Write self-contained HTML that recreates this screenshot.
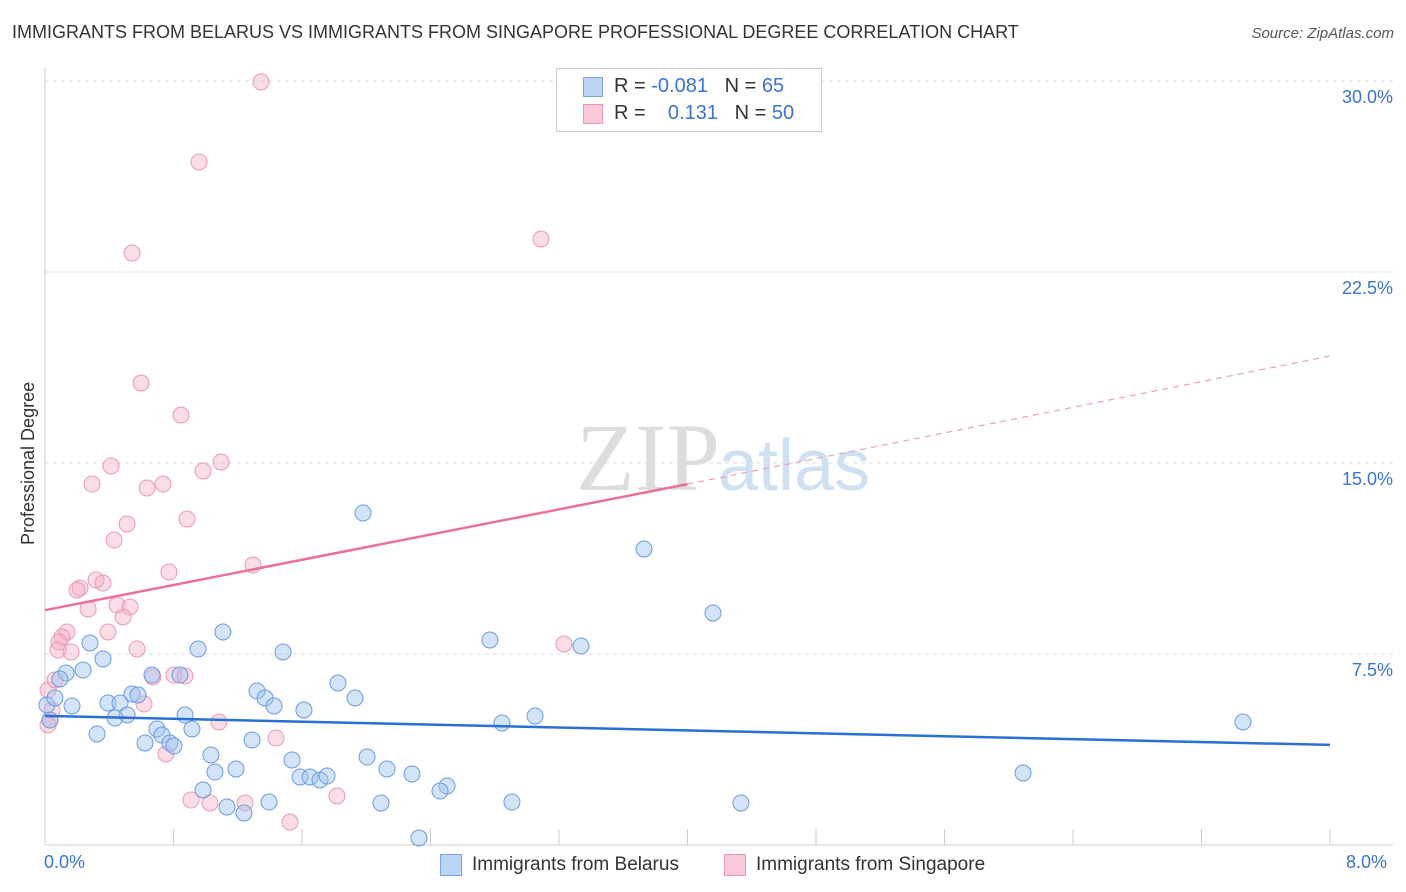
<!DOCTYPE html>
<html><head><meta charset="utf-8">
<style>
body{margin:0;background:#fff;font-family:"Liberation Sans",sans-serif;}
#wrap{position:relative;width:1406px;height:892px;overflow:hidden;}
.t{position:absolute;white-space:nowrap;}
</style></head>
<body>
<div id="wrap">
<div class="t" style="left:12px;top:22px;font-size:18px;color:#333;">IMMIGRANTS FROM BELARUS VS IMMIGRANTS FROM SINGAPORE PROFESSIONAL DEGREE CORRELATION CHART</div>
<div class="t" style="right:12px;top:25px;font-size:15px;color:#555;font-style:italic;">Source: ZipAtlas.com</div>
<svg id="svg" width="1406" height="892" style="position:absolute;left:0;top:0">
<text x="720" y="490" font-size="96" font-family="Liberation Serif" fill="#ddd" text-anchor="end">ZIP</text>
<text x="718" y="490" font-size="72" font-family="Liberation Sans" fill="#cfe0f3">atlas</text>
</svg>
<div class="t" style="left:18px;top:545px;font-size:18px;color:#333;transform:rotate(-90deg);transform-origin:0 0;">Professional Degree</div>
<div class="t" style="left:44px;top:852px;font-size:18px;color:#3b73d1;">0.0%</div>
<div class="t" style="left:1346px;top:852px;font-size:18px;color:#3b73d1;">8.0%</div>
<div style="position:absolute;left:556px;top:68px;width:264px;height:62px;border:1px solid #ccc;background:#fff;">
 <div style="position:absolute;left:26px;top:8px;width:18px;height:18px;background:#bcd4f5;border:1px solid #7aa3e0;"></div>
 <div class="t" style="left:57px;top:6px;font-size:20px;color:#333;">R = <span style="color:#3b73d1">-0.081</span>&nbsp;&nbsp;&nbsp;N = <span style="color:#3b73d1">65</span></div>
 <div style="position:absolute;left:26px;top:35px;width:18px;height:18px;background:#f9c9d8;border:1px solid #eb9ab3;"></div>
 <div class="t" style="left:57px;top:33px;font-size:20px;color:#333;">R = &nbsp;&nbsp;&nbsp;<span style="color:#3b73d1">0.131</span>&nbsp;&nbsp;&nbsp;N = <span style="color:#3b73d1">50</span></div>
</div>
<div style="position:absolute;left:440px;top:854px;width:20px;height:20px;background:#bcd4f5;border:1px solid #7aa3e0;"></div>
<div class="t" style="left:472px;top:854px;font-size:19px;color:#333;">Immigrants from Belarus</div>
<div style="position:absolute;left:724px;top:854px;width:20px;height:20px;background:#f9c9d8;border:1px solid #eb9ab3;"></div>
<div class="t" style="left:756px;top:854px;font-size:19px;color:#333;">Immigrants from Singapore</div>
</div>
<script>
const yTickValues=[7.5,15,22.5,30];
const yTickLabels=["7.5%","15.0%","22.5%","30.0%"];
const xTickValues=[0,0.8,1.6,2.4,3.2,4,4.8,5.6,6.4,7.2,8];
const bluePx=[[363,513],[644,549],[713,613],[490,640],[581,646],[223,632],[198,649],[283,652],[90,643],[103,659],[66,673],[83,670],[60,679],[152,675],[180,675],[338,683],[257,691],[265,698],[355,698],[132,694],[138,695],[108,703],[120,703],[72,706],[274,706],[304,710],[185,715],[127,715],[115,718],[502,723],[535,716],[1243,722],[192,729],[157,729],[162,735],[97,734],[145,743],[170,743],[174,746],[252,740],[211,755],[292,760],[367,757],[236,769],[215,772],[387,769],[412,774],[1023,773],[300,777],[310,777],[320,780],[327,776],[447,786],[440,791],[203,790],[269,802],[381,803],[512,802],[741,803],[227,807],[244,813],[419,838],[50,720],[47,705],[55,698]];
const pinkPx=[[261,82],[199,162],[541,239],[132,253],[141,383],[181,415],[111,466],[221,462],[203,471],[92,484],[147,488],[163,484],[187,519],[127,524],[114,540],[253,565],[169,572],[96,580],[103,583],[80,588],[77,590],[117,605],[130,607],[88,609],[123,617],[67,632],[62,637],[108,632],[59,642],[137,649],[71,652],[564,644],[153,677],[174,675],[185,676],[144,704],[219,722],[276,738],[166,754],[50,720],[52,710],[48,690],[55,680],[191,800],[210,803],[245,803],[337,796],[290,822],[58,650],[48,725]];
// convert estimated readings to data values (x %, y %)
const blueX=bluePx.map(p=>+((p[0]-45)/1285*8).toFixed(3));
const blueY=bluePx.map(p=>+((845-p[1])/191*7.5).toFixed(3));
const pinkX=pinkPx.map(p=>+((p[0]-45)/1285*8).toFixed(3));
const pinkY=pinkPx.map(p=>+((845-p[1])/191*7.5).toFixed(3));
const blueTrend=[[0,5.07],[8,3.93]];
const pinkTrend=[[0,9.22],[4,14.17],[8,19.2]];

const X=v=>45+v/8*1285, Y=v=>845-v/7.5*191;
const svg=document.getElementById('svg'), NS='http://www.w3.org/2000/svg';
function mk(tag,attrs){const e=document.createElementNS(NS,tag);for(const k in attrs)e.setAttribute(k,attrs[k]);svg.appendChild(e);return e;}
yTickValues.forEach((v,i)=>{
 const g=mk('line',{x1:45,x2:1393,y1:Y(v),y2:Y(v),stroke:'#ddd','stroke-dasharray':'4,4'});
 
 
 const t=mk('text',{x:1393,y:Y(v)+22,'text-anchor':'end','font-size':18,fill:'#3b73d1','font-family':'Liberation Sans'});
 t.textContent=yTickLabels[i];
 
 
});
const ax=mk('line',{x1:45,x2:45,y1:68,y2:845,stroke:'#ccc'});


const bx=mk('line',{x1:45,x2:1393,y1:845,y2:845,stroke:'#ccc'});


xTickValues.forEach(v=>{
 const l=mk('line',{x1:X(v),x2:X(v),y1:829,y2:845,stroke:'#ccc'});
 
 
});
pinkX.forEach((x,i)=>{
 const c=mk('circle',{cx:X(x),cy:Y(pinkY[i]),r:8,fill:'rgba(245,170,195,0.4)',stroke:'#eb9ab3','stroke-width':1});
 
 
});
blueX.forEach((x,i)=>{
 const c=mk('circle',{cx:X(x),cy:Y(blueY[i]),r:8,fill:'rgba(160,195,240,0.45)',stroke:'#6d9be0','stroke-width':1});
 
 
});
const bl=mk('line',{x1:X(blueTrend[0][0]),y1:Y(blueTrend[0][1]),x2:X(blueTrend[1][0]),y2:Y(blueTrend[1][1]),stroke:'#2a6fd6','stroke-width':2.5});


const pl=mk('line',{x1:X(pinkTrend[0][0]),y1:Y(pinkTrend[0][1]),x2:X(pinkTrend[1][0]),y2:Y(pinkTrend[1][1]),stroke:'#e8709a','stroke-width':2.5});


const pd=mk('line',{x1:X(pinkTrend[1][0]),y1:Y(pinkTrend[1][1]),x2:X(pinkTrend[2][0]),y2:Y(pinkTrend[2][1]),stroke:'#e8a0b8','stroke-width':1.2,'stroke-dasharray':'6,5'});


</script>
</body></html>
